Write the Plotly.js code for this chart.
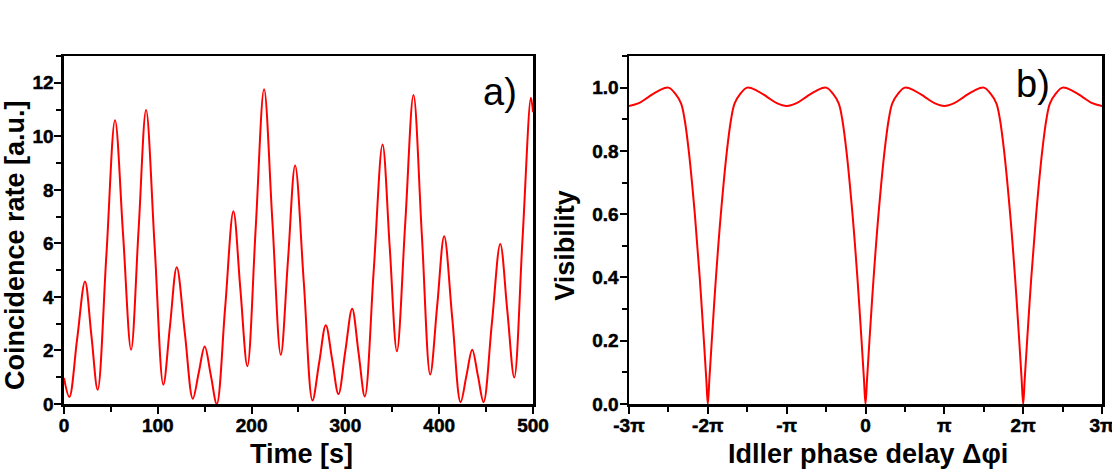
<!DOCTYPE html>
<html>
<head>
<meta charset="utf-8">
<script src="https://cdn.plot.ly/plotly-3.0.1.min.js"></script>
<style>
    html, body {margin: 0; padding: 0; background: #fff;}
    #container {width: 1112px; height: 470px;}
    /* tick labels are heavy bold in the original figure */
    #container .xaxislayer-above text,
    #container .yaxislayer-above text {font-weight: 700 !important; stroke: #000; stroke-width: 0.5px;}
</style>
</head>
<body>
<div id="container"></div>
<script>
// panel a) : coincidence rate (extrema and mid-flank crossings)
var timeSec = [0, 5.7, 14, 22.4, 29.2, 35.9, 45.2, 54.4, 63, 71.5,
    79.5, 87.5, 96.7, 105.9, 113, 120.2, 128.8, 137.3, 143.7, 150,
    156.5, 162.9, 171.8, 180.6, 188, 195.5, 204.4, 213.3, 222.2, 231.1,
    238.8, 246.4, 255.7, 264.9, 272, 279.1, 285.9, 292.6, 299.9, 307.2,
    314, 320.7, 330.2, 339.6, 347.3, 354.9, 363.8, 372.6, 381.5, 390.4,
    397.9, 405.3, 414, 422.8, 429, 435.2, 441.3, 447.3, 456.2, 465.1,
    472.6, 480, 488.9, 497.8, 500];
var coincRate = [0.97, 0.26, 2.42, 4.58, 2.56, 0.53, 5.57, 10.6, 6.32, 2.03,
    6.5, 10.98, 5.85, 0.72, 2.92, 5.11, 2.66, 0.2, 1.18, 2.15,
    1.08, 0, 3.6, 7.2, 4.3, 1.41, 6.59, 11.76, 6.8, 1.84,
    5.38, 8.91, 4.52, 0.13, 1.54, 2.94, 1.66, 0.37, 1.97, 3.56,
    1.92, 0.28, 4.99, 9.69, 5.83, 1.97, 6.76, 11.54, 6.32, 1.1,
    3.69, 6.27, 3.17, 0.07, 1.05, 2.03, 1.05, 0.07, 3.03, 5.98,
    3.49, 0.99, 6.22, 11.44, 10.9];

// panel b) : visibility, phase given in units of pi
var phasePi = [-3, -2.875, -2.75, -2.625, -2.5, -2.416, -2.34, -2.295, -2.242, -2.165, -2.103, -2.05, -2.02, -2,
    -1.98, -1.95, -1.897, -1.835, -1.758, -1.705, -1.66, -1.584, -1.5, -1.375, -1.25, -1.125, -1,
    -0.875, -0.75, -0.625, -0.5, -0.416, -0.34, -0.295, -0.242, -0.165, -0.103, -0.05, -0.02, 0,
    0.02, 0.05, 0.103, 0.165, 0.242, 0.295, 0.34, 0.416, 0.5, 0.625, 0.75, 0.875, 1,
    1.125, 1.25, 1.375, 1.5, 1.584, 1.66, 1.705, 1.758, 1.835, 1.897, 1.95, 1.98, 2,
    2.02, 2.05, 2.103, 2.165, 2.242, 2.295, 2.34, 2.416, 2.5, 2.625, 2.75, 2.875, 3];
var visibility = [0.942, 0.951, 0.971, 0.99, 1.0, 0.982, 0.95, 0.9, 0.8, 0.6, 0.4, 0.2, 0.08, 0,
    0.08, 0.2, 0.4, 0.6, 0.8, 0.9, 0.95, 0.982, 1.0, 0.99, 0.971, 0.951, 0.942,
    0.951, 0.971, 0.99, 1.0, 0.982, 0.95, 0.9, 0.8, 0.6, 0.4, 0.2, 0.08, 0,
    0.08, 0.2, 0.4, 0.6, 0.8, 0.9, 0.95, 0.982, 1.0, 0.99, 0.971, 0.951, 0.942,
    0.951, 0.971, 0.99, 1.0, 0.982, 0.95, 0.9, 0.8, 0.6, 0.4, 0.2, 0.08, 0,
    0.08, 0.2, 0.4, 0.6, 0.8, 0.9, 0.95, 0.982, 1.0, 0.99, 0.971, 0.951, 0.942];

var phaseTickVals = [-3, -2, -1, 0, 1, 2, 3];
var phaseTickText = ['-3π', '-2π', '-π', '0', 'π', '2π', '3π'];

var FONT = '"Liberation Sans", Arial, sans-serif';

var rateTrace = {
    x: timeSec,
    y: coincRate,
    xaxis: 'x',
    yaxis: 'y',
    mode: 'lines',
    type: 'scatter',
    line: {color: '#ff0000', width: 2, shape: 'spline'},
    hoverinfo: 'x+y'
};

var visTrace = {
    x: phasePi,
    y: visibility,
    xaxis: 'x2',
    yaxis: 'y2',
    mode: 'lines',
    type: 'scatter',
    line: {color: '#ff0000', width: 2, shape: 'spline'},
    hoverinfo: 'x+y'
};

var tickFont = {family: FONT, size: 19, color: '#000', weight: 700};
var titleFont = {family: FONT, size: 27, color: '#000', weight: 700};
var minorTicks = {ticks: 'outside', ticklen: 5, tickwidth: 2, tickcolor: '#000'};

var baseAxis = {
    showgrid: false,
    zeroline: false,
    showline: true,
    mirror: true,
    linecolor: '#000',
    linewidth: 2.5,
    ticks: 'outside',
    ticklen: 7,
    tickwidth: 2,
    tickcolor: '#000',
    tickfont: tickFont,
    ticklabeloverflow: 'allow',
    automargin: false
};

function axis(extra) {
    return Object.assign({}, baseAxis, extra);
}

// axis titles sit off-centre and close to the page edge in the original,
// so they are placed as annotations
function yTitle(text, x) {
    return {text: text, xref: 'paper', yref: 'paper', x: x, y: 0.457, textangle: -90,
        xanchor: 'center', yanchor: 'middle', showarrow: false, font: titleFont};
}
function xTitle(text, x) {
    return {text: text, xref: 'paper', yref: 'paper', x: x, y: -0.144,
        xanchor: 'center', yanchor: 'middle', showarrow: false, font: titleFont};
}

var layout = {
    width: 1112,
    height: 470,
    showlegend: false,
    plot_bgcolor: '#fff',
    paper_bgcolor: '#fff',
    margin: {l: 0, r: 0, t: 56, b: 66, pad: 0},
    xaxis: axis({
        domain: [0.05755, 0.47932],
        anchor: 'y',
        range: [0, 500],
        dtick: 100,
        minor: Object.assign({dtick: 50}, minorTicks),
        ticklabelstandoff: -4
    }),
    yaxis: axis({
        domain: [0, 1],
        anchor: 'x',
        range: [0, 13],
        dtick: 2,
        minor: Object.assign({dtick: 1}, minorTicks),
        ticklabelstandoff: -3
    }),
    xaxis2: axis({
        domain: [0.56565, 0.99101],
        anchor: 'y2',
        range: [-3, 3],
        tickvals: phaseTickVals,
        ticktext: phaseTickText,
        minor: Object.assign({dtick: 0.5}, minorTicks),
        ticklabelstandoff: -4
    }),
    yaxis2: axis({
        domain: [0, 1],
        anchor: 'x2',
        range: [0, 1.1],
        dtick: 0.2,
        tickformat: '.1f',
        minor: Object.assign({dtick: 0.1}, minorTicks),
        ticklabelstandoff: -3
    }),
    annotations: [
        yTitle('Coincidence rate [a.u.]', 0.0135),
        yTitle('Visibility', 0.508),
        xTitle('Time [s]', 0.2711),
        xTitle('Idller phase delay Δφi', 0.7806),
        {text: 'a)', xref: 'x', yref: 'y', x: 465, y: 11.65, xanchor: 'center', yanchor: 'middle',
            showarrow: false, font: {family: FONT, size: 38, color: '#000'}},
        {text: 'b)', xref: 'x2', yref: 'y2', x: 2.12, y: 1.011, xanchor: 'center', yanchor: 'middle',
            showarrow: false, font: {family: FONT, size: 38, color: '#000'}}
    ]
};

Plotly.newPlot('container', [rateTrace, visTrace], layout, {displayModeBar: false, staticPlot: true});
</script>
</body>
</html>
